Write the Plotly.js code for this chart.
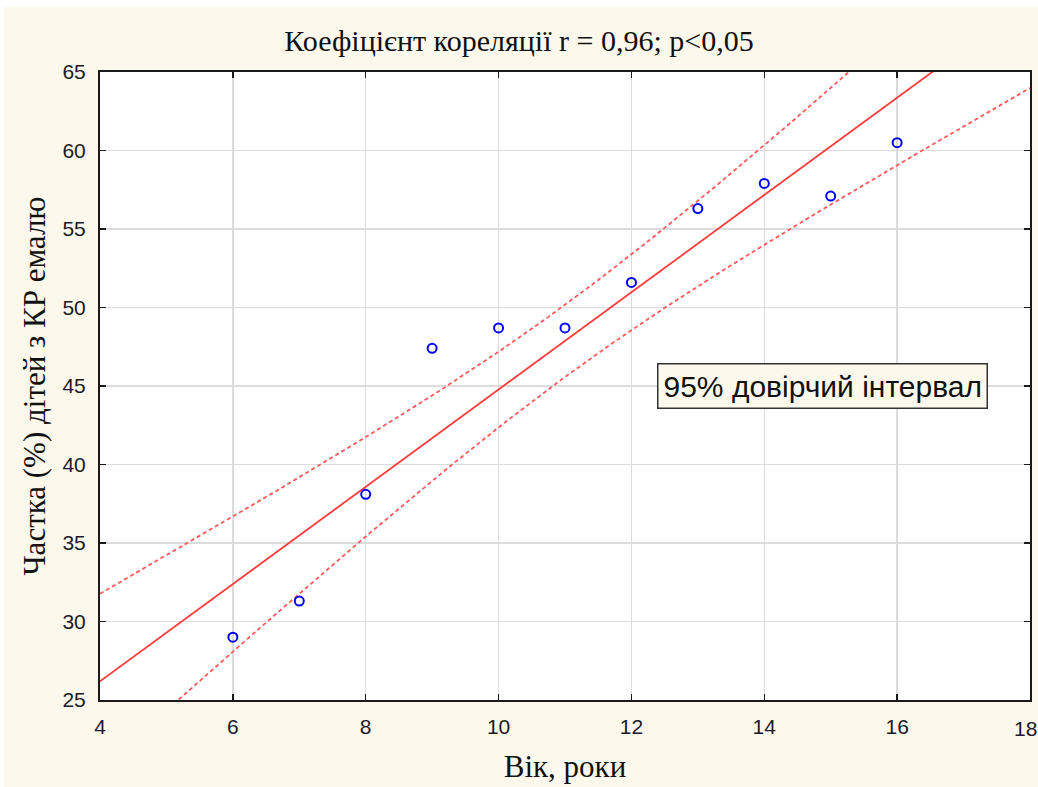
<!DOCTYPE html>
<html>
<head>
<meta charset="utf-8">
<script src="https://cdn.plot.ly/plotly-3.0.1.min.js"></script>
<style>
  html, body { margin: 0; padding: 0; background: #ffffff; }
  #chart {
    width: 1038px; height: 787px;
    background: linear-gradient(#fdf8ec, #fdf8ec) no-repeat 4px 7px / 1034px 780px, #ffffff;
  }
</style>
</head>
<body>
<div id="chart"></div>
<script>
// Age of children (years) and share (%) with enamel caries
const ageYears = [6, 7, 8, 9, 10, 11, 12, 13, 14, 15, 16];
const sharePct = [29.0, 31.3, 38.1, 47.4, 48.7, 48.7, 51.6, 56.3, 57.9, 57.1, 60.5];
const xTicks = [4, 6, 8, 10, 12, 14, 16, 18];
const yTicks = [25, 30, 35, 40, 45, 50, 55, 60, 65];
const tCrit = 2.262; // Student t, 9 d.f., 95%

// Least-squares fit and 95% confidence band of the mean
const n = ageYears.length;
const mx = ageYears.reduce((a, b) => a + b, 0) / n;
const my = sharePct.reduce((a, b) => a + b, 0) / n;
let sxx = 0, sxy = 0;
for (let i = 0; i < n; i++) {
  sxx += (ageYears[i] - mx) ** 2;
  sxy += (ageYears[i] - mx) * (sharePct[i] - my);
}
const slope = sxy / sxx;
const intercept = my - slope * mx;
let sse = 0;
for (let i = 0; i < n; i++) {
  sse += (sharePct[i] - (intercept + slope * ageYears[i])) ** 2;
}
const se = Math.sqrt(sse / (n - 2));

const gx = [], fit = [], lo = [], hi = [];
for (let k = 0; k <= 280; k++) {
  const x = 4 + k * 0.05;
  const yh = intercept + slope * x;
  const h = tCrit * se * Math.sqrt(1 / n + (x - mx) ** 2 / sxx);
  gx.push(x); fit.push(yh); lo.push(yh - h); hi.push(yh + h);
}

const red = '#ff3b3b';
const traces = [
  { x: gx, y: hi, mode: 'lines', line: { color: '#ff5a5a', width: 1.8, dash: '4px,3px' }, hoverinfo: 'skip' },
  { x: gx, y: lo, mode: 'lines', line: { color: '#ff5a5a', width: 1.8, dash: '4px,3px' }, hoverinfo: 'skip' },
  { x: gx, y: fit, mode: 'lines', line: { color: red, width: 1.8 }, hoverinfo: 'skip' },
  { x: ageYears, y: sharePct, mode: 'markers',
    marker: { symbol: 'circle-open', size: 9, color: '#0000ff', line: { width: 2, color: '#0000ff' } } }
];

const serif = 'Liberation Serif, Times New Roman, serif';
const sans = 'Liberation Sans, Arial, sans-serif';

const axisCommon = {
  showline: true, linecolor: '#1a1a1a', linewidth: 2, mirror: 'ticks',
  ticks: 'inside', ticklen: 6, tickwidth: 1.5, tickcolor: '#1a1a1a',
  showgrid: true, gridcolor: '#dcdcdc', gridwidth: 1.5, zeroline: false,
  tickfont: { family: sans, size: 21, color: '#1a1a2a' }
};

const layout = {
  width: 1038, height: 787,
  paper_bgcolor: 'rgba(0,0,0,0)', plot_bgcolor: '#ffffff',
  margin: { l: 100, r: 8, t: 72, b: 87 },
  showlegend: false,
  title: {
    text: 'Коефіцієнт кореляції r = 0,96; p<0,05',
    font: { family: serif, size: 30, color: '#111' },
    x: 0.5, xanchor: 'center', y: 0.948, yanchor: 'middle'
  },
  xaxis: Object.assign({}, axisCommon, {
    range: [4, 18], tickvals: [4, 6, 8, 10, 12, 14, 16], ticklabelstandoff: 7,
    title: { text: 'Вік, роки', standoff: 18, font: { family: serif, size: 31, color: '#111' } }
  }),
  yaxis: Object.assign({}, axisCommon, {
    range: [25, 65], tickvals: yTicks, ticklabelstandoff: 8,
    title: { text: 'Частка (%) дітей з КР емалю', standoff: 8, font: { family: serif, size: 31, color: '#111' } }
  }),
  annotations: [
    {
      x: 14.87, y: 45, xref: 'x', yref: 'y', showarrow: false,
      text: '95% довірчий інтервал',
      font: { family: sans, size: 30, color: '#111' },
      bgcolor: '#fdf8ec', bordercolor: '#333', borderwidth: 1.5, borderpad: 5
    },
    {
      // last x tick label, pulled in just enough to stay on the page
      x: xTicks[xTicks.length - 1], y: 0, xref: 'x', yref: 'paper', yshift: -15, xshift: -5,
      xanchor: 'center', yanchor: 'top', showarrow: false,
      text: String(xTicks[xTicks.length - 1]),
      font: { family: sans, size: 21, color: '#1a1a2a' }
    }
  ]
};

Plotly.newPlot('chart', traces, layout, { displayModeBar: false, staticPlot: true });
</script>
</body>
</html>
